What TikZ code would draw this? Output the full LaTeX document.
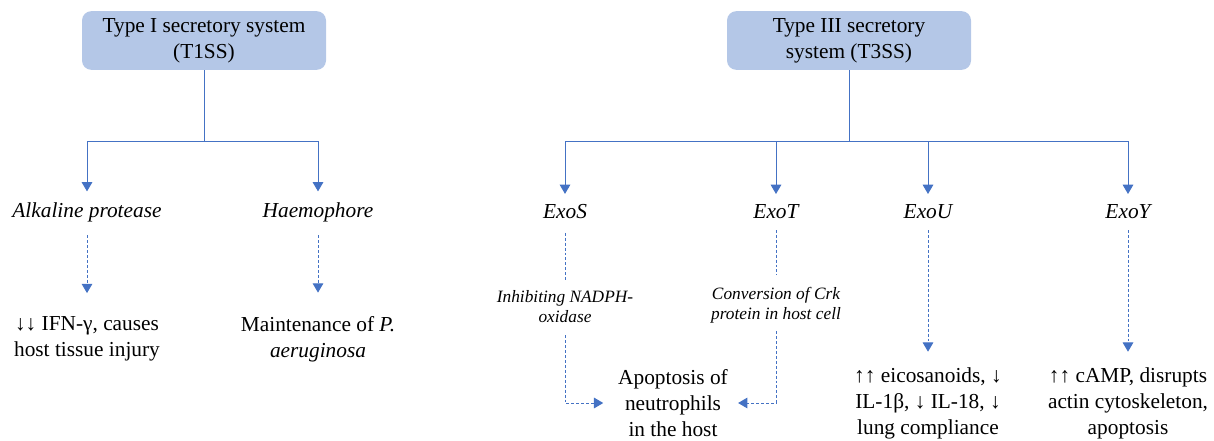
\documentclass[tikz,border=0pt]{standalone}
\usepackage{fontspec}
\setmainfont{Liberation Serif}
\usetikzlibrary{arrows.meta}
\definecolor{boxfill}{HTML}{B4C7E7}
\definecolor{linec}{HTML}{4472C4}
\begin{document}
\begin{tikzpicture}[x=0.75pt,y=-0.75pt,
  sysbox/.style={fill=boxfill, rounded corners=7pt, minimum width=183pt, minimum height=44pt, align=center, inner sep=0pt, font=\fontsize{16}{19.5}\selectfont},
  lbl/.style={align=center, inner sep=0pt, font=\fontsize{16}{19.5}\selectfont},
  ilbl/.style={align=center, inner sep=0pt, font=\fontsize{16}{19.5}\selectfont\itshape},
  slbl/.style={align=center, inner sep=0pt, font=\fontsize{13}{15}\selectfont\itshape},
  conn/.style={draw=linec, line width=0.75pt},
  arr/.style={conn, -{Triangle[width=8pt,length=7pt]}},
  darr/.style={arr, dash pattern=on 2.2pt off 1.5pt},
  dline/.style={conn, dash pattern=on 2.2pt off 1.5pt}]
\path[use as bounding box] (0,0) rectangle (1214,440);

% Type I
\node[sysbox] (t1) at (204,40.5) {Type I secretory system\\(T1SS)};
\coordinate (j1) at (204,141);
\coordinate (b1) at (87,141);
\coordinate (b2) at (318,141);
\node[ilbl] (alk) at (87,212) {Alkaline protease};
\node[ilbl] (hae) at (318,212) {Haemophore};
\node[lbl] (ifn) at (87,339) {↓↓ IFN-γ, causes\\host tissue injury};
\node[lbl] (mai) at (318,339) {Maintenance of \textit{P.}\\\textit{aeruginosa}};
\draw[conn] (t1.south) -- (j1);
\draw[conn] (b1) -- (b2);
\draw[arr, shorten >=8pt] (b1) -- (alk.north);
\draw[arr, shorten >=8pt] (b2) -- (hae.north);
\draw[darr, shorten <=10pt, shorten >=17.5pt] (alk.south) -- (ifn.north);
\draw[darr, shorten <=10pt, shorten >=17.5pt] (hae.south) -- (mai.north);

% Type III
\node[sysbox] (t3) at (849,40.5) {Type III secretory\\system (T3SS)};
\coordinate (j3) at (849,141);
\coordinate (c1) at (565,141);
\coordinate (c2) at (776,141);
\coordinate (c3) at (928,141);
\coordinate (c4) at (1128,141);
\node[ilbl] (exos) at (565,212) {ExoS};
\node[ilbl] (exot) at (776,212) {ExoT};
\node[ilbl] (exou) at (928,212) {ExoU};
\node[ilbl] (exoy) at (1128,212) {ExoY};
\draw[conn] (t3.south) -- (j3);
\draw[conn] (c1) -- (c4);
\draw[arr, shorten >=8pt] (c1) -- (exos.north);
\draw[arr, shorten >=8pt] (c2) -- (exot.north);
\draw[arr, shorten >=8pt] (c3) -- (exou.north);
\draw[arr, shorten >=8pt] (c4) -- (exoy.north);

\node[slbl] (inh) at (565,307) {Inhibiting NADPH-\\oxidase};
\node[slbl] (cnv) at (776,305) {Conversion of Crk\\protein in host cell};
\node[lbl] (apo) at (673,403) {Apoptosis of\\neutrophils\\in the host};
\node[lbl] (eic) at (928,403) {↑↑ eicosanoids, ↓\\IL-1β, ↓ IL-18, ↓\\lung compliance};
\node[lbl] (camp) at (1128,403) {↑↑ cAMP, disrupts\\actin cytoskeleton,\\apoptosis};

\draw[dline, shorten <=10pt, shorten >=7pt] (exos.south) -- (inh.north);
\draw[dline, shorten <=8pt, shorten >=9pt] (exot.south) -- (cnv.north);
\draw[darr, shorten <=9pt, shorten >=11pt] (inh.south) |- (apo.west);
\draw[darr, shorten <=6pt, shorten >=7.5pt] (cnv.south) |- (apo.east);
\draw[darr, shorten <=8pt, shorten >=11.5pt] (exou.south) -- (eic.north);
\draw[darr, shorten <=8pt, shorten >=11.5pt] (exoy.south) -- (camp.north);
\end{tikzpicture}
\end{document}
